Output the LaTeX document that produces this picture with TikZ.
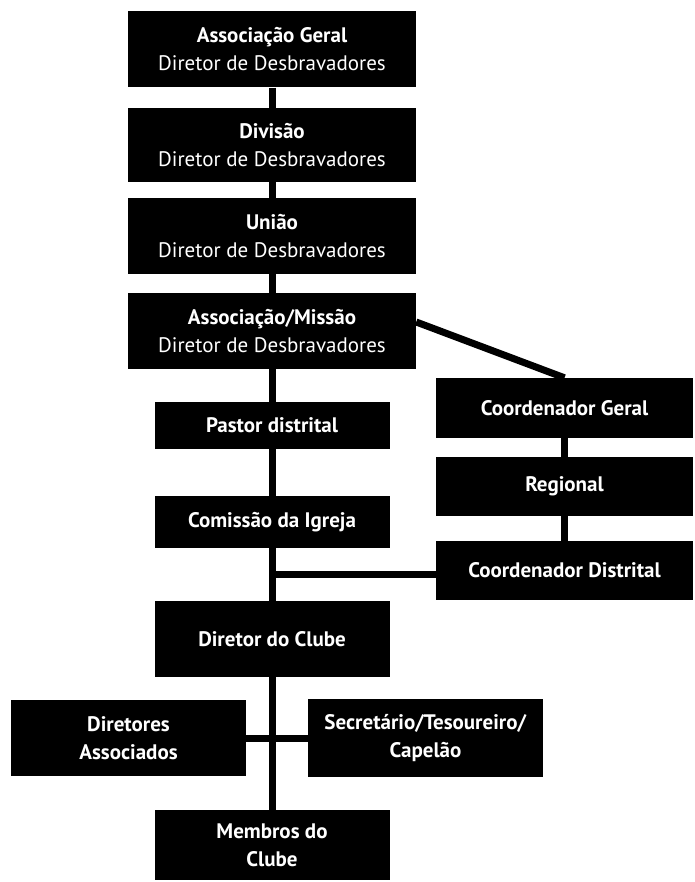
\documentclass[tikz,border=0pt]{standalone}
\usepackage{fontspec}
\setmainfont{PT Sans}
\usetikzlibrary{calc,backgrounds}

\begin{document}
\begin{tikzpicture}[x=1pt,y=-1pt,
  box node/.style={rectangle,fill=black,text=white,align=center,inner sep=0pt,
    font=\fontsize{21}{28}\selectfont,minimum width=235,minimum height=76},
  wide node/.style={box node,minimum width=288},
  side node/.style={box node,minimum width=257,minimum height=59}]
  \useasboundingbox (0,0) rectangle (694,882);

  \node[wide node] (ag) at (272,49.5) {\textbf{Associação Geral}\\Diretor de Desbravadores};
  \node[wide node,minimum height=74] (div) at (272,145) {\textbf{Divisão}\\Diretor de Desbravadores};
  \node[wide node] (uniao) at (272,236) {\textbf{União}\\Diretor de Desbravadores};
  \node[wide node] (asso) at (272,331) {\textbf{Associação/Missão}\\Diretor de Desbravadores};
  \node[box node,minimum height=47] (pastor) at (272,425.5) {\textbf{Pastor distrital}};
  \node[box node,minimum height=52] (comissao) at (272,522) {\textbf{Comissão da Igreja}};
  \node[box node] (clube) at (272,639) {\textbf{Diretor do Clube}};
  \node[box node] (assoc) at (128.5,738) {\textbf{Diretores}\\\textbf{Associados}};
  \node[box node,minimum height=78] (sec) at (425.5,738) {\textbf{Secretário/Tesoureiro/}\\\textbf{Capelão}};
  \node[box node,minimum height=70] (membros) at (272,845) {\textbf{Membros do}\\\textbf{Clube}};
  \node[side node,minimum height=60] (cgeral) at (564.5,408) {\textbf{Coordenador Geral}};
  \node[side node] (regional) at (564.5,486.5) {\textbf{Regional}};
  \node[side node] (cdist) at (564.5,570.5) {\textbf{Coordenador Distrital}};

  \begin{scope}[on background layer]
  \path[every edge/.append style={line width=7pt}]
    (ag) edge (membros)
    (assoc) edge (sec)
    (cgeral) edge (cdist)
    ([yshift=9pt]asso.east) edge (cgeral.north)
    ([yshift=-4pt]cdist.west) edge ([yshift=-4pt]cdist.west -| clube.center);
  \end{scope}
\end{tikzpicture}
\end{document}
